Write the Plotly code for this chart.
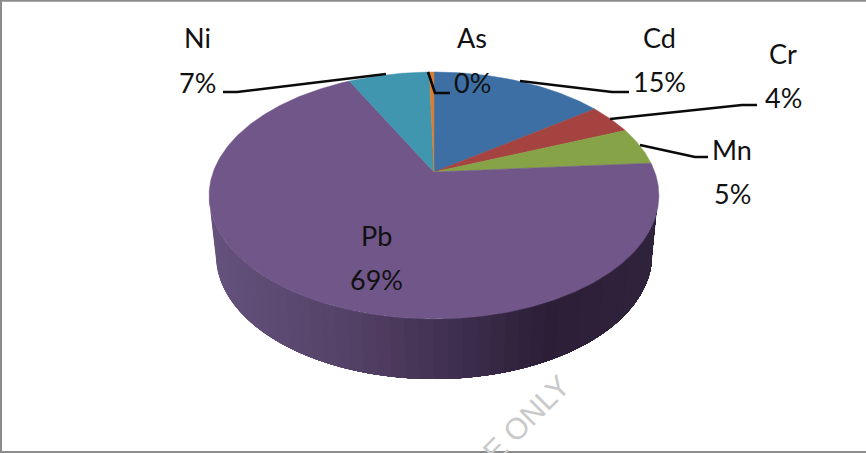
import math
import plotly.graph_objects as go

# Data (clockwise from 12 o'clock)
metals = ["Cd", "Cr", "Mn", "Pb", "Ni", "As"]
shares = [15.0, 3.9, 4.9, 68.8, 7.0, 0.4]
colors = ["#3d6fa5", "#a54341", "#87a347", "#705689", "#3f96ae", "#d87f33"]

# Label placement (centre of the name line / value line), in picture pixels
label_pos = {
    "Cd": (659, 37, 81),
    "Cr": (783, 53, 97),
    "Mn": (732, 149, 193),
    "Pb": (376, 235, 279),
    "Ni": (197, 37, 82),
    "As": (472, 37, 82),
}
leaders = {
    "Cd": ([520, 612, 629], [81, 92, 92]),
    "Cr": ([610, 742, 757], [119, 105, 105]),
    "Mn": ([640, 695, 708], [145, 157, 157]),
    "Ni": ([386, 237, 223], [74, 92, 92]),
    "As": ([428, 435, 450], [72, 93, 93]),
}

# Geometry of the tilted disc
W, H = 866, 453
APEX_X, APEX_Y = 434, 172
SCALE_X, SCALE_Y, PERSP = 220.8, 119.0, 0.19
RIM_CX, RIM_CY, RIM_RX, RIM_RY = 433.5, 195.5, 224.5, 123.5
BASE_CX, BASE_CY, BASE_RX, BASE_RY = 434.0, 255.0, 218.0, 124.0
FONT = "Lato, sans-serif"


def project(theta_deg):
    t = math.radians(theta_deg)
    u, v = math.sin(t), math.cos(t)
    d = 1 + PERSP * v
    return APEX_X + SCALE_X * u / d, APEX_Y - SCALE_Y * v / d


def ramp(stops, f):
    for (f0, c0), (f1, c1) in zip(stops, stops[1:]):
        if f <= f1:
            s = (f - f0) / (f1 - f0)
            return "rgb(%d,%d,%d)" % tuple(round(a + (b - a) * s) for a, b in zip(c0, c1))
    return "rgb(%d,%d,%d)" % stops[-1][1]


# Wall shade, from the left edge of the disc (0) to the right edge (1)
wall_stops = [
    (0.0, (101, 82, 125)),
    (0.3, (84, 65, 102)),
    (0.5, (66, 49, 83)),
    (0.75, (43, 30, 54)),
    (1.0, (48, 35, 60)),
]

fig = go.Figure()

# Side wall: painted from left to right, each band covering everything still
# to its right, so no seams show between bands
STRIPS = 48
ARC = 90
for i in range(STRIPS):
    a_from = math.pi * (1 - i / STRIPS)
    arc = [a_from * k / ARC for k in range(ARC + 1)]
    xs = [RIM_CX + RIM_RX * math.cos(a) for a in arc]
    ys = [RIM_CY + RIM_RY * math.sin(a) for a in arc]
    xs += [BASE_CX + BASE_RX * math.cos(a) for a in reversed(arc)]
    ys += [BASE_CY + BASE_RY * math.sin(a) for a in reversed(arc)]
    xs.append(xs[0])
    ys.append(ys[0])
    c = ramp(wall_stops, (1 + math.cos(a_from)) / 2)
    fig.add_trace(go.Scatter(x=xs, y=ys, mode="none", fill="toself", fillcolor=c,
                             hoverinfo="skip", showlegend=False))

# Top surface slices
total = sum(shares)
start = 0.0
for name, val, col in zip(metals, shares, colors):
    sweep = 360.0 * val / total
    n = max(4, int(sweep * 2))
    pts = [project(start + sweep * k / n) for k in range(n + 1)]
    xs = [APEX_X] + [p[0] for p in pts] + [APEX_X]
    ys = [APEX_Y] + [p[1] for p in pts] + [APEX_Y]
    fig.add_trace(go.Scatter(x=xs, y=ys, mode="lines", fill="toself", fillcolor=col,
                             line=dict(color=col, width=0.5), name=name,
                             hoverinfo="name", showlegend=False))
    start += sweep

# Leader lines
for name, (lx, ly) in leaders.items():
    fig.add_trace(go.Scatter(x=lx, y=ly, mode="lines", line=dict(color="#0a0a0a", width=2.6),
                             hoverinfo="skip", showlegend=False))

# Labels
annotations = []
for name, val in zip(metals, shares):
    x, y1, y2 = label_pos[name]
    for text, y in ((name, y1), ("%d%%" % round(val), y2)):
        annotations.append(dict(x=x, y=y, xref="x", yref="y", text=text, showarrow=False,
                                xanchor="center", yanchor="middle",
                                font=dict(family=FONT, size=27, color="#111111")))
annotations.append(dict(x=526, y=418, xref="x", yref="y", text="E ONLY", showarrow=False,
                        textangle=-45, xanchor="center", yanchor="middle",
                        font=dict(family="Liberation Sans, sans-serif", size=30, color="#c9c9c9")))

# Frame: top, left and bottom edges only
frame = [
    dict(type="line", xref="x", yref="y", x0=0, x1=W, y0=0.8, y1=0.8, line=dict(color="#8c8c8c", width=2)),
    dict(type="line", xref="x", yref="y", x0=1, x1=1, y0=0, y1=H, line=dict(color="#8c8c8c", width=2)),
    dict(type="line", xref="x", yref="y", x0=0, x1=W, y0=452, y1=452, line=dict(color="#8c8c8c", width=2)),
]

fig.update_layout(
    width=W, height=H, autosize=False,
    margin=dict(l=0, r=0, t=0, b=0),
    paper_bgcolor="white", plot_bgcolor="white",
    xaxis=dict(range=[0, W], visible=False, fixedrange=True),
    yaxis=dict(range=[H, 0], visible=False, fixedrange=True),
    annotations=annotations, shapes=frame,
)

fig.write_html("out.html", config=dict(displayModeBar=False),
               post_script="document.body.style.margin='0';document.body.style.overflow='hidden';")
